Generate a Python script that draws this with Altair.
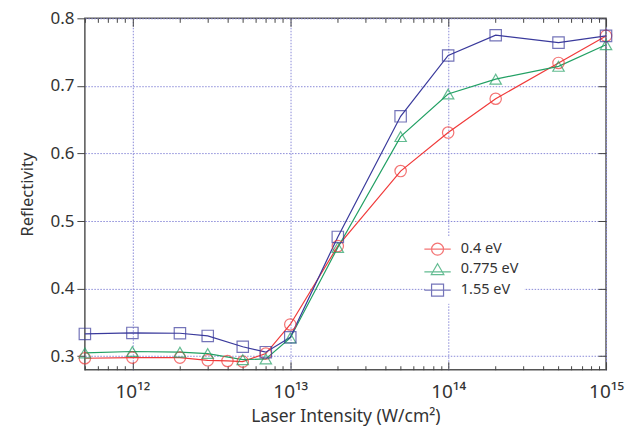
import altair as alt
import pandas as pd

series_names = ["0.4 eV", "0.775 eV", "1.55 eV"]
series_colors = ["#f03a3a", "#22a064", "#3a3a9c"]

red_x = [5e11, 1e12, 2e12, 3e12, 4e12, 5e12, 7e12, 1e13, 2e13, 5e13, 1e14, 2e14, 5e14, 1e15]
red_y = [0.297, 0.298, 0.298, 0.294, 0.293, 0.292, 0.304, 0.347, 0.463, 0.574, 0.631, 0.681, 0.734, 0.774]

green_x = [5e11, 1e12, 2e12, 3e12, 5e12, 7e12, 1e13, 2e13, 5e13, 1e14, 2e14, 5e14, 1e15]
green_y = [0.305, 0.307, 0.306, 0.304, 0.295, 0.296, 0.327, 0.461, 0.625, 0.688, 0.710, 0.729, 0.761]

blue_x = [5e11, 1e12, 2e12, 3e12, 5e12, 7e12, 1e13, 2e13, 5e13, 1e14, 2e14, 5e14, 1e15]
blue_y = [0.333, 0.3345, 0.334, 0.330, 0.314, 0.306, 0.328, 0.4765, 0.655, 0.745, 0.775, 0.764, 0.774]

major_ticks = [1e12, 1e13, 1e14, 1e15]
major_labels = ["10¹²", "10¹³", "10¹⁴", "10¹⁵"]
minor_mult = [1, 2, 3, 4, 5, 6, 7, 8, 9]
decades = [11, 12, 13, 14]
y_ticks = [0.3, 0.4, 0.5, 0.6, 0.7, 0.8]

rows = []
for name, xs, ys in zip(series_names, [red_x, green_x, blue_x], [red_y, green_y, blue_y]):
    for xv, yv in zip(xs, ys):
        rows.append({"x": xv, "y": yv, "series": name})
df = pd.DataFrame(rows)

x_ticks = [m * 10.0 ** d for d in decades for m in minor_mult if 5e11 <= m * 10.0 ** d <= 1e15] + [1e15]

major_test = " || ".join(f"datum.value == {v:.0e}" for v in major_ticks)
label_expr = " : ".join(f"datum.value == {v:.0e} ? '{l}'" for v, l in zip(major_ticks, major_labels)) + " : ''"

FONT = "Noto Sans"
GRID = "#8a8ad8"

xscale = alt.Scale(type="log", domain=[5e11, 1e15], nice=False)
yscale = alt.Scale(domain=[0.28, 0.8], nice=False, zero=False)
cscale = alt.Scale(domain=series_names, range=series_colors)

x_bottom = alt.X("x:Q", scale=xscale, title="Laser Intensity (W/cm²)",
                 axis=alt.Axis(orient="bottom", values=x_ticks, labelExpr=label_expr,
                               tickSize={"condition": {"test": major_test, "value": -8}, "value": -4},
                               grid=True,
                               gridOpacity={"condition": {"test": major_test, "value": 1}, "value": 0},
                               gridColor=GRID, gridDash=[1.5, 1.5],
                               labelPadding=21, labelFontSize=19, titleFontSize=17.5,
                               titlePadding=6, domain=False, labelFlush=False))
y_left = alt.Y("y:Q", scale=yscale, title="Reflectivity",
               axis=alt.Axis(orient="left", values=y_ticks, format=".1f", tickSize=8,
                             grid=True, gridColor=GRID, gridDash=[1.5, 1.5],
                             labelFontSize=17, titleFontSize=16.5, labelPadding=3,
                             titlePadding=14, domain=False, labelFlush=False))

x_plain = alt.X("x:Q", scale=xscale, axis=None)
y_plain = alt.Y("y:Q", scale=yscale, axis=None)
color = alt.Color("series:N", scale=cscale)

base = alt.Chart(df)

lines = base.mark_line(strokeWidth=1.2).encode(x=x_bottom, y=y_left, color=color)

pts = []
for name, shp in zip(series_names, ["circle", "triangle-up", "square"]):
    pts.append(base.transform_filter(alt.datum.series == name)
               .mark_point(shape=shp, filled=False, size=130, strokeWidth=1.2)
               .encode(x=x_plain, y=y_plain, color=color))

# top / right frame axes (ticks only)
frame = base.transform_filter("false").mark_point().encode(
    x=alt.X("x:Q", scale=xscale,
            axis=alt.Axis(orient="top", values=x_ticks, labels=False, title=None, grid=False,
                          domain=False,
                          tickSize={"condition": {"test": major_test, "value": -8}, "value": -4})),
    y=alt.Y("y:Q", scale=yscale,
            axis=alt.Axis(orient="right", values=y_ticks, labels=False, title=None, grid=False,
                          domain=False, tickSize={"expr": "-8"})),
)

leg_paths = [
    "M-2.2,0L2.2,0M1,0A1,1,0,1,1,-1,0A1,1,0,1,1,1,0",
    "M-2.2,0.45L2.2,0.45M0,-0.9L1.05,0.9L-1.05,0.9Z",
    "M-2.2,0L2.2,0M-1,-1L1,-1L1,1L-1,1Z",
]
legend_layer = base.transform_filter("false").mark_point(filled=False, strokeWidth=1.2).encode(
    x=x_plain,
    y=y_plain,
    color=alt.Color("series:N", scale=cscale,
                    legend=alt.Legend(orient="none", legendX=341, legendY=219, title=None,
                                      fillColor="white", padding=5, symbolSize=144,
                                      labelFontSize=14.5, labelOffset=16, rowPadding=3,
                                      symbolStrokeWidth=1.2, labelColor="#333")),
    shape=alt.Shape("series:N", scale=alt.Scale(domain=series_names, range=leg_paths)),
)

chart = alt.layer(lines, *pts, frame, legend_layer).resolve_axis(
    x="independent", y="independent"
).properties(
    width=522, height=352,
    autosize=alt.AutoSizeParams(type="none"),
    padding={"left": 77, "top": 10, "right": 20, "bottom": 60},
).configure_view(
    stroke="#555", strokeWidth=1.5
).configure_axis(
    labelFont=FONT, titleFont=FONT, labelColor="#333", titleColor="#333",
    tickColor="#444", tickWidth=1, titleFontWeight="normal"
).configure_legend(
    labelFont=FONT
)

chart.save("out.html", embed_options={"renderer": "svg", "actions": False})
